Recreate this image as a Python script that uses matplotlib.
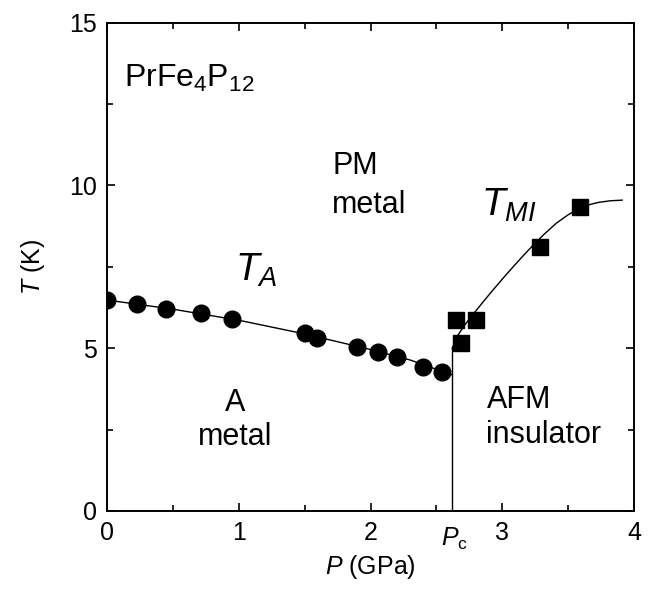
import matplotlib
matplotlib.use('Agg')
import matplotlib.pyplot as plt
from matplotlib.ticker import MultipleLocator

plt.rcParams['font.family'] = ['Liberation Sans', 'DejaVu Sans']
plt.rcParams['mathtext.fontset'] = 'custom'
plt.rcParams['mathtext.rm'] = 'Liberation Sans'
plt.rcParams['mathtext.it'] = 'Liberation Sans:italic'

# --- data ---
# T_A : antiquadrupole ordering (circles)
p_a = [0.0, 0.225, 0.45, 0.71, 0.945, 1.50, 1.59, 1.90, 2.06, 2.20, 2.40, 2.54]
t_a = [6.48, 6.35, 6.21, 6.07, 5.90, 5.46, 5.31, 5.05, 4.88, 4.74, 4.41, 4.28]

# T_MI : metal-insulator transition (squares)
p_mi = [2.65, 2.69, 2.80, 3.29, 3.59]
t_mi = [5.87, 5.17, 5.87, 8.12, 9.35]

# guide lines (hand-drawn in the original)
p_a_line = [0.0, 0.5, 1.0, 1.5, 2.0, 2.3, 2.62]
t_a_line = [6.48, 6.20, 5.86, 5.44, 4.96, 4.64, 4.18]

p_mi_line = [2.62, 2.66, 2.72, 2.79, 2.86, 2.93, 3.01, 3.10, 3.17, 3.24, 3.32,
             3.41, 3.50, 3.58, 3.66, 3.73, 3.82, 3.91]
t_mi_line = [5.00, 5.38, 5.74, 6.10, 6.45, 6.79, 7.17, 7.58, 7.89, 8.19, 8.51,
             8.84, 9.10, 9.28, 9.41, 9.48, 9.53, 9.55]

p_c = 2.62
t_pc_top = 5.0

fig = plt.figure(figsize=(6.51, 5.90), dpi=100)
ax = fig.add_axes([0.1644, 0.1339, 0.8095, 0.8276])

ax.plot(p_a_line, t_a_line, color='black', lw=1.0)
ax.plot(p_mi_line, t_mi_line, color='black', lw=1.0)
ax.plot([p_c, p_c], [0, t_pc_top], color='black', lw=1.0)
ax.plot(p_a, t_a, 'o', color='black', ms=12)
ax.plot(p_mi, t_mi, 's', color='black', ms=11)

ax.set_xlim(0, 4)
ax.set_ylim(0, 15)
ax.xaxis.set_major_locator(MultipleLocator(1))
ax.xaxis.set_minor_locator(MultipleLocator(0.5))
ax.yaxis.set_major_locator(MultipleLocator(5))
ax.yaxis.set_minor_locator(MultipleLocator(2.5))
ax.tick_params(which='both', direction='in', top=True, right=True, width=1.2)
ax.tick_params(which='major', length=6, labelsize=18, pad=7)
ax.tick_params(which='minor', length=4)
for s in ax.spines.values():
    s.set_linewidth(1.4)

ax.text(p_c + 0.02, -0.45, r'$P_{\rm c}$', fontsize=18, ha='center', va='top')

ax.set_xlabel(r'$P$ (GPa)', fontsize=18, labelpad=6)
ax.set_ylabel(r'$T$ (K)', fontsize=18, labelpad=16)

ax.text(0.13, 13.3, r'PrFe$_4$P$_{12}$', fontsize=23, ha='left', va='center')
ax.text(1.71, 10.0, 'PM\nmetal', fontsize=22, ha='left', va='center', linespacing=1.35)
ax.text(0.97, 7.4, r'$T_A$', fontsize=28, ha='left', va='center')
ax.text(2.84, 9.4, r'$T_{MI}$', fontsize=28, ha='left', va='center')
ax.text(0.97, 2.8, 'A\nmetal', fontsize=22, ha='center', va='center', linespacing=1.15)
ax.text(3.13, 3.4, 'AFM', fontsize=22, ha='center', va='center')
ax.text(3.31, 2.35, 'insulator', fontsize=22, ha='center', va='center')

fig.savefig('out.png', dpi=100)
